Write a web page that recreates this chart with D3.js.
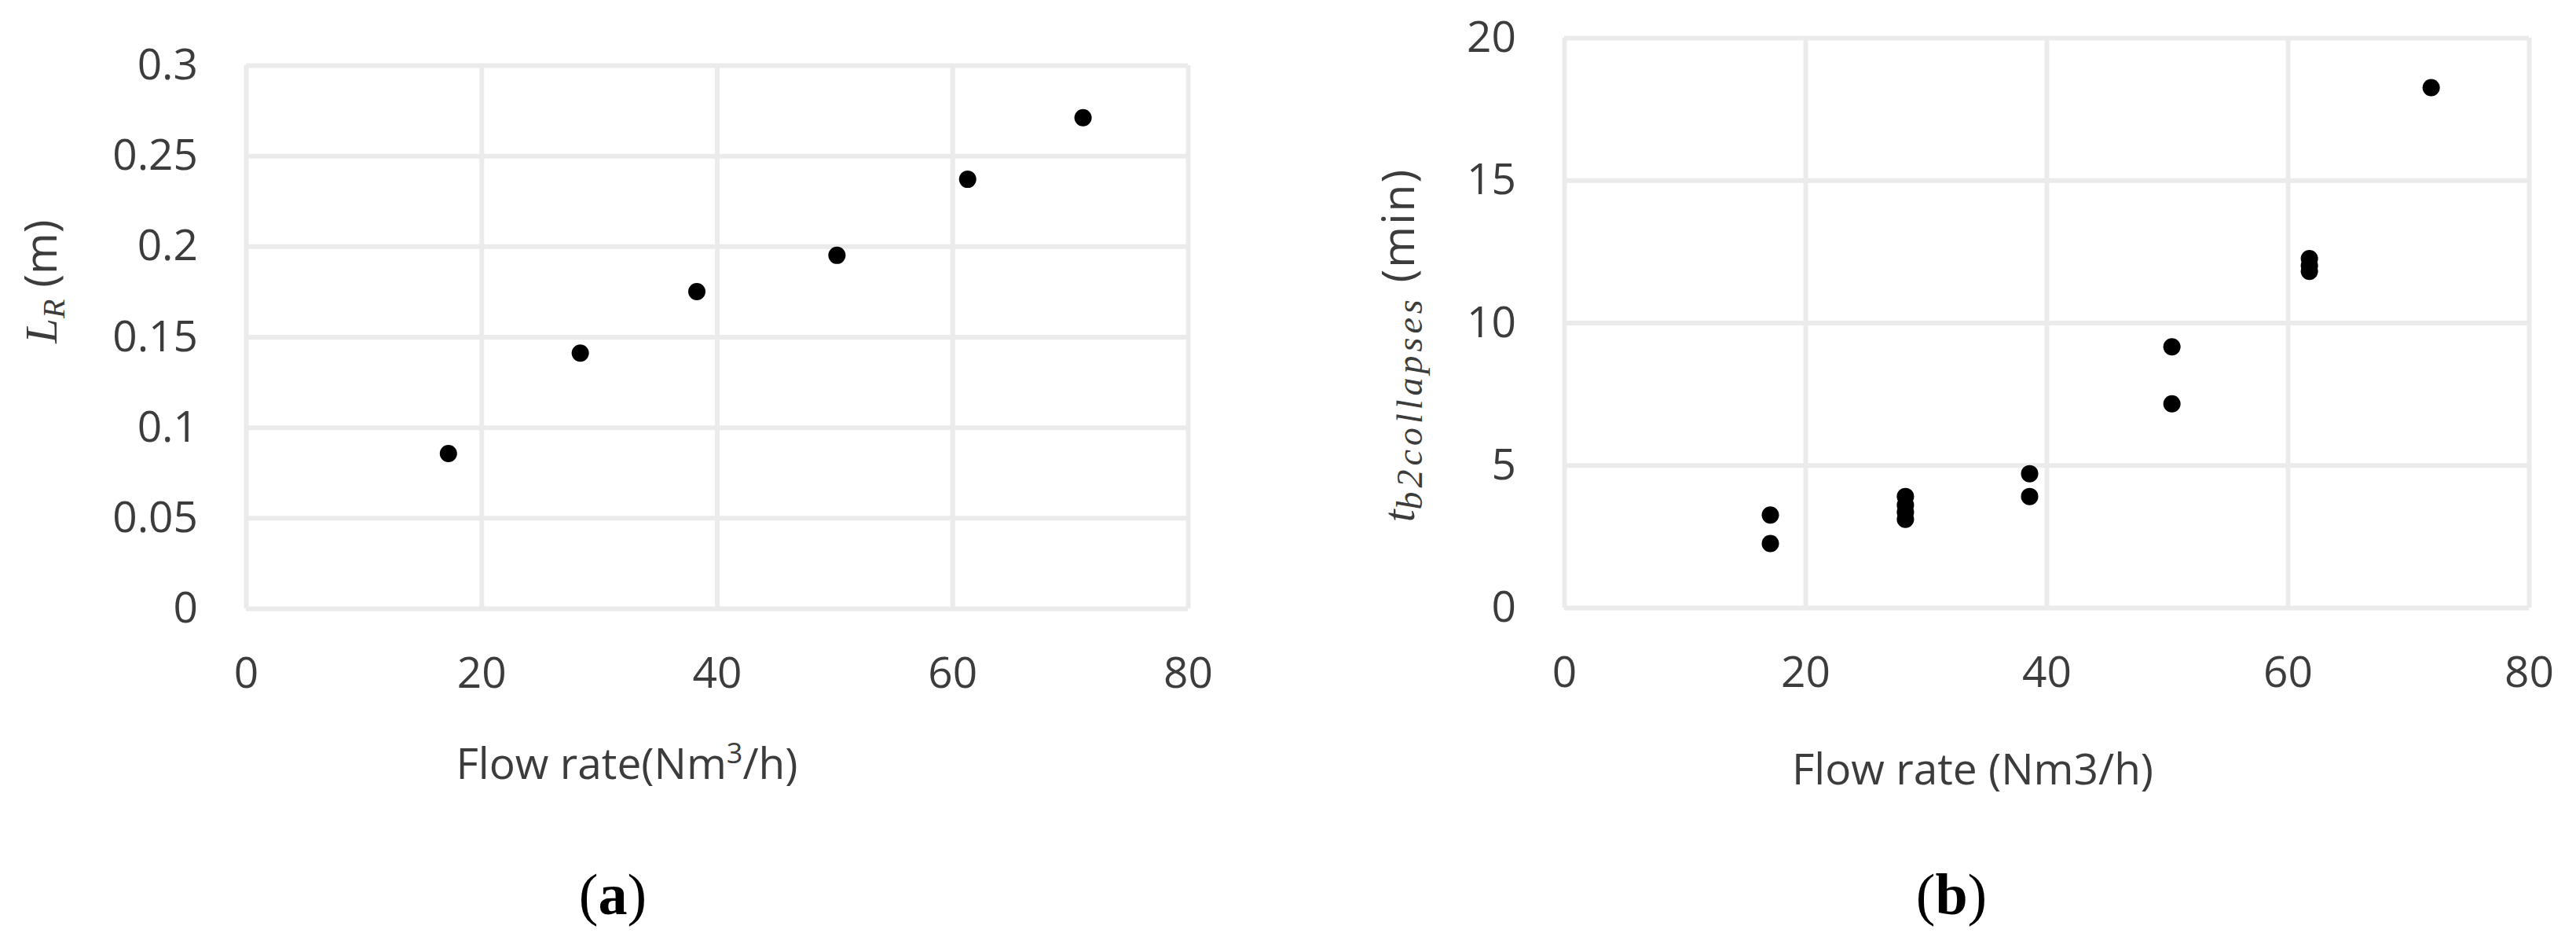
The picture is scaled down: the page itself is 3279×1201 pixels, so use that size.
<!DOCTYPE html>
<html>
<head>
<meta charset="utf-8">
<script src="https://cdn.jsdelivr.net/npm/d3@7"></script>
<style>
  body { margin: 0; background: #fff; }
</style>
</head>
<body>
<div id="myChart"></div>
<script>
// panel (a): recirculation length vs flow rate
const flowA = [17.2, 28.4, 38.3, 50.2, 61.3, 71.1];
const lengthA = [0.0855, 0.141, 0.175, 0.195, 0.237, 0.271];

// panel (b): time until bubble collapses vs flow rate
const flowB = [17.1, 17.1, 28.3, 28.3, 28.3, 28.3, 38.6, 38.6, 50.4, 50.4, 61.8, 61.8, 61.8, 71.9];
const timeB = [3.25, 2.25, 3.9, 3.6, 3.35, 3.1, 4.7, 3.9, 9.15, 7.15, 12.25, 12.0, 11.8, 18.25];

// tick labels
const xTicks = [0, 20, 40, 60, 80];
const yTicksA = [0, 0.05, 0.1, 0.15, 0.2, 0.25, 0.3];
const yTicksB = [0, 5, 10, 15, 20];

const W = 3279, H = 1201;
const sans = "'Open Sans', 'Noto Sans', sans-serif";
const serif = "'Liberation Serif', 'DejaVu Serif', serif";

let svg = d3.select("#myChart")
  .append("svg")
    .attr("width", W)
    .attr("height", H);

svg.append("rect").attr("width", W).attr("height", H).attr("fill", "#fff");

function drawPanel(p) {
  const w = p.x1 - p.x0, h = p.y1 - p.y0;
  const g = svg.append("g").attr("transform", `translate(${p.x0}, ${p.y0})`);

  const x = d3.scaleLinear().domain([0, 80]).range([0, w]);
  const y = d3.scaleLinear().domain([0, p.yMax]).range([h, 0]);

  // x gridlines + tick labels
  const gx = g.append("g")
    .attr("transform", `translate(0, ${h})`)
    .call(d3.axisBottom(x).tickValues(xTicks).tickSize(-h).tickPadding(62).tickFormat(d => d));
  // y gridlines + tick labels
  const gy = g.append("g")
    .call(d3.axisLeft(y).tickValues(p.yTicks).tickSize(-w).tickPadding(61).tickFormat(d => String(d)));

  [gx, gy].forEach(a => {
    a.select(".domain").remove();
    a.selectAll("line").attr("stroke", "#ebebeb").attr("stroke-width", 6);
    a.selectAll("text")
      .attr("fill", "#3c3c3c")
      .attr("font-family", sans)
      .attr("font-size", 55);
  });

  // points
  g.selectAll("circle")
    .data(p.xs.map((v, i) => [v, p.ys[i]]))
    .join("circle")
      .attr("cx", d => x(d[0]))
      .attr("cy", d => y(d[1]))
      .attr("r", 11)
      .attr("fill", "#000");

  // x axis title
  const xt = svg.append("text")
    .attr("x", p.xTitleX)
    .attr("y", p.xTitleY)
    .attr("text-anchor", "middle")
    .attr("font-family", sans)
    .attr("font-size", 55)
    .attr("fill", "#3c3c3c");
  p.xTitle(xt);

  // y axis title
  const yt = svg.append("text")
    .attr("transform", `translate(${p.yTitleX}, ${p.yTitleY}) rotate(-90)`)
    .attr("text-anchor", "middle")
    .attr("font-size", 57)
    .attr("fill", "#3c3c3c");
  p.yTitle(yt);

  // caption
  const cap = svg.append("text")
    .attr("x", p.capX)
    .attr("y", 1163)
    .attr("text-anchor", "middle")
    .attr("font-family", serif)
    .attr("font-size", 74)
    .attr("fill", "#000");
  cap.append("tspan").text("(");
  cap.append("tspan").attr("font-weight", "bold").text(p.cap);
  cap.append("tspan").text(")");
}

drawPanel({
  x0: 313, x1: 1512, y0: 83, y1: 774,
  yMax: 0.3, yTicks: yTicksA, xs: flowA, ys: lengthA,
  xTitleX: 798, xTitleY: 991,
  xTitle: t => {
    t.append("tspan").text("Flow rate(Nm");
    t.append("tspan").attr("font-size", 36).attr("dy", -20).text("3");
    t.append("tspan").attr("dy", 20).text("/h)");
  },
  yTitleX: 72, yTitleY: 358,
  yTitle: t => {
    t.append("tspan").attr("font-family", serif).attr("font-style", "italic").text("L");
    t.append("tspan").attr("font-family", serif).attr("font-style", "italic")
      .attr("font-size", 40).attr("dy", 10).text("R");
    t.append("tspan").attr("font-family", sans).attr("dy", -10).text(" (m)");
  },
  capX: 780, cap: "a"
});

drawPanel({
  x0: 1991, x1: 3219, y0: 48, y1: 773,
  yMax: 20, yTicks: yTicksB, xs: flowB, ys: timeB,
  xTitleX: 2511, xTitleY: 998,
  xTitle: t => t.text("Flow rate (Nm3/h)"),
  yTitleX: 1800, yTitleY: 439,
  yTitle: t => {
    t.append("tspan").attr("font-family", serif).attr("font-style", "italic").text("t");
    t.append("tspan").attr("font-family", serif).attr("font-style", "italic")
      .attr("font-size", 46).attr("dy", 10).attr("letter-spacing", 5).text("b2collapses");
    t.append("tspan").attr("font-family", sans).attr("dy", -10).attr("letter-spacing", 2).text(" (min)");
  },
  capX: 2484, cap: "b"
});
</script>
</body>
</html>
